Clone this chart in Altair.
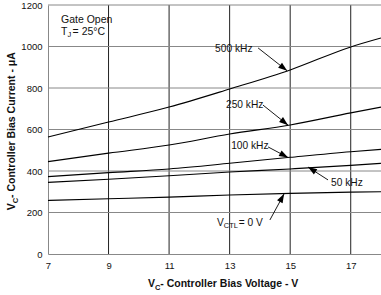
import math
import altair as alt
import pandas as pd

# ---- data ----
vc = [7, 9, 11, 13, 15, 17, 18]
i_500k = [564, 636, 708, 795, 887, 998, 1041]
i_250k = [445, 486, 525, 578, 622, 680, 708]
i_100k = [373, 392, 410, 437, 466, 493, 504]
i_50k = [345, 360, 377, 395, 410, 427, 437]
i_0v = [258, 266, 274, 284, 292, 298, 300]
series = {"500 kHz": i_500k, "250 kHz": i_250k, "100 kHz": i_100k,
          "50 kHz": i_50k, "0 V": i_0v}

x_ticks = [7, 9, 11, 13, 15, 17]
y_ticks = [0, 200, 400, 600, 800, 1000, 1200]
x_grid = [9, 11, 13, 15, 17]
y_grid = [200, 400, 600, 800, 1000, 1200]

# annotation labels (left edge / vertical centre, data units)
lab_text = ["500 kHz", "250 kHz", "100 kHz", "50 kHz"]
lab_x = [12.52, 12.88, 13.05, 16.35]
lab_y = [990, 718, 520, 342]

# arrows: start (near label) -> tip (on curve)
arr_x0 = [13.94, 14.10, 14.27, 16.25, 14.33]
arr_y0 = [993, 718, 516, 357, 164]
arr_x1 = [14.90, 14.93, 14.93, 15.59, 14.80]
arr_y1 = [883, 621, 465, 419, 290]

FONT = "Liberation Sans"
W, H = 333, 249
PX_X = W / 11.0      # pixels per volt
PX_Y = H / 1200.0    # pixels per uA

rows = []
for name, vals in series.items():
    for v, i in zip(vc, vals):
        rows.append({"vc": v, "i": i, "s": name})
df = pd.DataFrame(rows)

xs = alt.Scale(domain=[7, 18], nice=False, zero=False)
ys = alt.Scale(domain=[0, 1200], nice=False)

ax_x = alt.Axis(values=x_ticks, title=None, ticks=False, labelPadding=6,
                grid=False, domainColor="#888", labelFontSize=9.5,
                labelFont=FONT, labelColor="#111", labelFlush=False, format="d")
ax_y = alt.Axis(values=y_ticks, title=None, ticks=False, labelPadding=6,
                grid=False, domainColor="#888", labelFontSize=9.5,
                labelFont=FONT, labelColor="#111", format="d")


def qx(f):
    return alt.X(f, scale=xs, axis=ax_x)


def qy(f):
    return alt.Y(f, scale=ys, axis=ax_y)


vgrid = alt.Chart(pd.DataFrame({"g": x_grid})).mark_rule(
    color="#222", strokeWidth=1).encode(x=qx("g:Q"))
hgrid = alt.Chart(pd.DataFrame({"g": y_grid})).mark_rule(
    color="#888", strokeWidth=1).encode(y=qy("g:Q"))

curves = alt.Chart(df).mark_line(color="black", strokeWidth=1.1,
                                 interpolate="monotone").encode(
    x=qx("vc:Q"), y=qy("i:Q"), detail="s:N")

# arrows
arr_rows = []
for x0, y0, x1, y1 in zip(arr_x0, arr_y0, arr_x1, arr_y1):
    dxp = (x1 - x0) * PX_X
    dyp = -(y1 - y0) * PX_Y
    ang = math.degrees(math.atan2(dxp, -dyp)) % 360
    L = math.hypot(dxp, dyp)
    ux, uy = dxp / L, dyp / L
    half = 4.5
    cx = x1 - ux * half / PX_X
    cy = y1 + uy * half / PX_Y
    arr_rows.append({"x0": x0, "y0": y0, "x1": x1, "y1": y1,
                     "cx": cx, "cy": cy, "ang": ang})
adf = pd.DataFrame(arr_rows)

arrow_lines = alt.Chart(adf).mark_rule(color="black", strokeWidth=0.9).encode(
    x=qx("x0:Q"), y=qy("y0:Q"), x2="x1:Q", y2="y1:Q")
arrow_heads = alt.Chart(adf).mark_point(
    shape="M0,-1L0.7,1L-0.7,1Z", filled=True, color="black", opacity=1,
    size=81, strokeWidth=0).encode(
    x=qx("cx:Q"), y=qy("cy:Q"), angle=alt.Angle("ang:Q", scale=None))

ldf = pd.DataFrame({"x": lab_x, "y": lab_y, "t": lab_text})
labels = alt.Chart(ldf).mark_text(align="left", baseline="middle",
                                  fontSize=10.2, font=FONT, color="#111").encode(
    x=qx("x:Q"), y=qy("y:Q"), text="t:N")

one = pd.DataFrame({"a": [0]})


def dtxt(x, y, s, size=10, dx=0, dy=0):
    return alt.Chart(pd.DataFrame({"x": [x], "y": [y], "t": [s]})).mark_text(
        align="left", baseline="middle", fontSize=size, font=FONT,
        color="#111", dx=dx, dy=dy).encode(
        x=qx("x:Q"), y=qy("y:Q"), text="t:N")


def ptxt(px, py, s, size=10.5, angle=0, weight="bold"):
    return alt.Chart(one).mark_text(
        align="left", baseline="alphabetic", fontSize=size, font=FONT,
        fontWeight=weight, color="#111", angle=angle).encode(
        x=alt.value(px), y=alt.value(py), text=alt.value(s))


# V_CTL = 0 V
vctl = [dtxt(12.58, 149, "V", 10.2),
        dtxt(12.58, 149, "CTL", 7.5, dx=6.9, dy=3),
        dtxt(12.58, 149, " = 0 V", 10.2, dx=6.9 + 15)]
# Gate Open / T_J = 25°C
gate = [dtxt(7.43, 1128, "Gate Open", 10.5),
        dtxt(7.43, 1070, "T", 10.5),
        dtxt(7.43, 1070, "J", 7.5, dx=6.6, dy=3),
        dtxt(7.43, 1070, " = 25°C", 10.5, dx=6.6 + 5)]

# axis titles (pixel positions relative to plot area)
xt = [ptxt(100, 282, "V"), ptxt(107, 285, "C", 7.5),
      ptxt(112.3, 282, " - Controller Bias Voltage - V")]
yt = [ptxt(-33.5, 205.3, "V", angle=270), ptxt(-30.5, 198.3, "C", 7.5, angle=270),
      ptxt(-33.5, 193, " - Controller Bias Current - \u03bcA", angle=270)]

chart = alt.layer(vgrid, hgrid, curves, arrow_lines, arrow_heads, labels,
                  *vctl, *gate, *xt, *yt).properties(
    width=W, height=H,
    autosize=alt.AutoSizeParams(type="none"),
    padding={"left": 48, "top": 5, "right": 0, "bottom": 41},
    background="white",
).configure_view(stroke=None).configure_axis(grid=False)

chart.save("out.html", embed_options={"renderer": "svg", "actions": False})
